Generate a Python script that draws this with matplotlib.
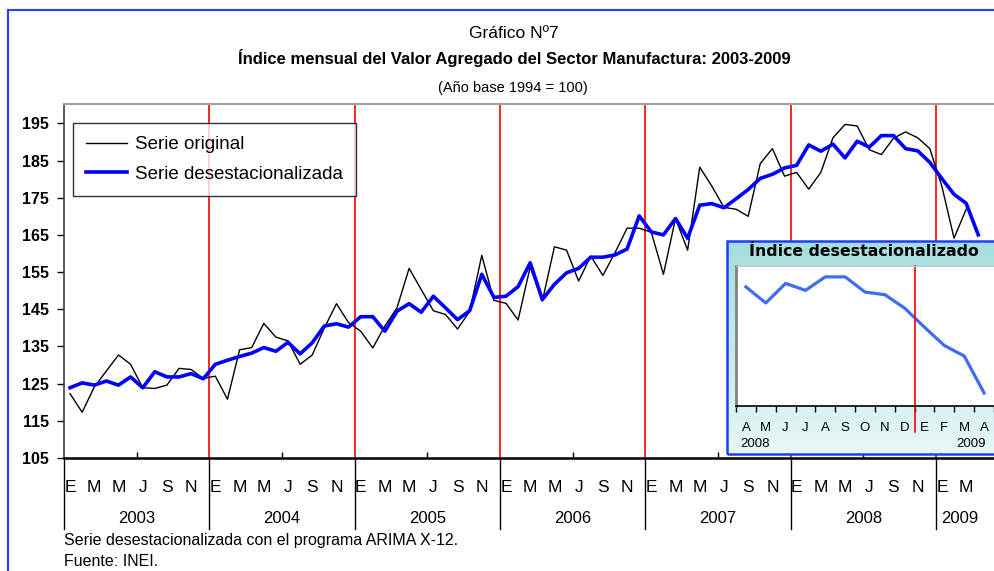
import matplotlib
matplotlib.use("Agg")
import matplotlib.pyplot as plt
import numpy as np
from matplotlib.lines import Line2D
from matplotlib.colors import LinearSegmentedColormap

W, H = 994, 571

years = ["2003", "2004", "2005", "2006", "2007", "2008", "2009"]
month_letters = ["E", "M", "M", "J", "S", "N"]

# Serie original (ene 2003 - mar 2009)
serie_original = [
    122.3, 117.3, 124.1, 128.4, 132.7, 130.2, 123.9, 123.7, 124.6, 129.1, 128.8, 126.4,
    127.0, 120.8, 134.1, 134.7, 141.2, 137.5, 136.5, 130.2, 132.7, 140.0, 146.5, 141.4,
    139.1, 134.6, 140.5, 145.4, 156.0, 150.3, 144.6, 143.6, 139.7, 144.4, 159.5, 147.4,
    146.6, 142.1, 156.4, 147.2, 161.8, 160.9, 152.6, 159.3, 154.1, 160.2, 166.8, 166.8,
    165.7, 154.4, 169.4, 160.9, 183.2, 178.1, 172.4, 171.9, 170.0, 184.2, 188.2, 180.8,
    181.8, 177.3, 181.8, 191.1, 194.7, 194.3, 187.9, 186.6, 191.0, 192.7, 191.1, 188.2,
    178.0, 164.1, 171.9,
]

# Serie desestacionalizada (ene 2003 - abr 2009)
serie_desest = [
    123.9, 125.2, 124.6, 125.7, 124.6, 126.8, 123.9, 128.2, 126.8, 126.8, 127.7, 126.3,
    130.2, 131.3, 132.3, 133.2, 134.7, 133.7, 136.1, 133.0, 136.0, 140.5, 141.1, 140.2,
    143.0, 143.0, 139.1, 144.5, 146.5, 144.2, 148.5, 145.4, 142.2, 144.6, 154.4, 148.2,
    148.5, 151.1, 157.5, 147.6, 151.7, 154.8, 156.0, 159.0, 159.0, 159.6, 161.2, 170.1,
    165.8, 165.0, 169.4, 164.1, 173.0, 173.4, 172.3, 174.7, 177.2, 180.2, 181.3, 183.0,
    183.7, 189.2, 187.5, 189.4, 185.7, 190.2, 188.6, 191.7, 191.7, 188.2, 187.6, 184.5,
    180.1, 175.9, 173.5, 165.0,
]

# recuadro: abril 2008 - abril 2009
inset_start = 63
inset_labels = ["A", "M", "J", "J", "A", "S", "O", "N", "D", "E", "F", "M", "A"]
inset_years = ["2008", "2009"]

plt.rcParams["font.family"] = ["Liberation Sans", "DejaVu Sans"]


def fx(px):
    return px / W


def fy(py):
    return 1 - py / H


fig = plt.figure(figsize=(W / 100, H / 100), dpi=100)

# marco exterior
fig.add_artist(Line2D([fx(8), 1], [fy(10), fy(10)], color="#2a3cff", lw=1.5))
fig.add_artist(Line2D([fx(8), fx(8)], [fy(10), 0], color="#2a3cff", lw=1.5))

# titulos
fig.text(fx(514), fy(34), "Gráfico Nº7", ha="center", va="center", fontsize=12.5)
fig.text(fx(514), fy(58), "Índice mensual del Valor Agregado del Sector Manufactura: 2003-2009",
         ha="center", va="center", fontsize=12, fontweight="bold")
fig.text(fx(513), fy(88), "(Año base 1994 = 100)", ha="center", va="center", fontsize=10.5)

# grafico principal
ax = fig.add_axes([fx(64), fy(458), 1 - fx(64), (458 - 104) / H])
n = len(serie_desest)
ax.set_xlim(-0.5, 76.3)
ax.set_ylim(105, 200.2)

for k in range(1, len(years)):
    ax.axvline(12 * k - 0.5, color="red", lw=1.2, zorder=1)

ax.plot(range(len(serie_original)), serie_original, color="black", lw=1.0, zorder=3,
        label="Serie original")
ax.plot(range(n), serie_desest, color="#0000ff", lw=2.6, zorder=4,
        label="Serie desestacionalizada")

ax.spines["right"].set_visible(False)
ax.spines["top"].set_color("#a0a0a0")
ax.spines["top"].set_linewidth(1.5)
ax.spines["left"].set_color("#404040")
ax.spines["left"].set_linewidth(1.2)
ax.spines["bottom"].set_color("black")
ax.spines["bottom"].set_linewidth(1.8)

ax.set_yticks(range(105, 200, 10))
ax.tick_params(axis="y", direction="out", length=5, width=1, labelsize=11.5, pad=6)
for lab in ax.get_yticklabels():
    lab.set_fontweight("bold")
ax.set_xticks([5.5 + 12 * k for k in range(6)])
ax.set_xticklabels([])
ax.tick_params(axis="x", direction="in", length=4, width=1)

xt = ax.get_xaxis_transform()
for yi, yr in enumerate(years):
    for m, letter in enumerate(month_letters):
        idx = 12 * yi + 2 * m
        if idx < n:
            ax.text(idx, -0.082, letter, transform=xt, ha="center", va="center", fontsize=12.5)
    start = 12 * yi - 0.5
    end = min(12 * yi + 11.5, n - 0.5)
    ax.text((start + end) / 2, -0.172, yr, transform=xt, ha="center", va="center", fontsize=12)
    ax.plot([start, start], [0, -0.2], transform=xt, color="black", lw=1, clip_on=False)

leg = ax.legend(loc="upper left", bbox_to_anchor=(fx(73), fy(123)), bbox_transform=fig.transFigure,
                frameon=True, fancybox=False, edgecolor="black", fontsize=13.5,
                handlelength=2.2, handletextpad=0.4, borderpad=0.7, labelspacing=0.65,
                borderaxespad=0)
leg.get_frame().set_linewidth(1.0)

# recuadro
gax = fig.add_axes([fx(727), fy(454), 1.01 - fx(727), (454 - 241) / H])
cmap = LinearSegmentedColormap.from_list("cyan", ["#a3dedf", "#e8f7f7"])
gax.imshow(np.linspace(0, 1, 256).reshape(-1, 1), aspect="auto", cmap=cmap,
           extent=(0, 1, 0, 1))
gax.set_xlim(0, 1)
gax.set_ylim(0, 1)
gax.set_axis_off()
gax.add_patch(plt.Rectangle((0, 0), 1, 1, transform=gax.transAxes, fill=False,
                            edgecolor="#1f3fff", lw=1.8, clip_on=False))

fig.text(fx(864), fy(252), "Índice desestacionalizado", ha="center", va="center",
         fontsize=11.3, fontweight="bold", family="DejaVu Sans")

iax = fig.add_axes([fx(736), fy(406), 1 - fx(736), (406 - 266) / H])
iax.set_facecolor("white")
inset_vals = serie_desest[inset_start:inset_start + len(inset_labels)]
iax.plot(range(len(inset_vals)), inset_vals, color="#3f6cf5", lw=2.3)
iax.set_xlim(-0.5, 12.35)
iax.set_ylim(162, 194.2)
iax.set_yticks([])
iax.set_xticks(np.arange(-0.5, 13, 1))
iax.set_xticklabels([])
iax.tick_params(axis="x", direction="out", length=4, width=1)
iax.spines["right"].set_visible(False)
iax.spines["top"].set_color("#c8c8c8")
iax.spines["left"].set_color("#808080")
iax.spines["left"].set_linewidth(2)
iax.spines["bottom"].set_color("black")
iax.spines["bottom"].set_linewidth(1.2)

ixt = iax.get_xaxis_transform()
iax.plot([8.5, 8.5], [1, -0.186], transform=ixt, color="red", lw=1.2, clip_on=False)
for i, letter in enumerate(inset_labels):
    iax.text(i, -0.157, letter, transform=ixt, ha="center", va="center", fontsize=9.5)
iax.text(-0.3, -0.27, inset_years[0], transform=ixt, ha="left", va="center", fontsize=9.5)
iax.text(12.1, -0.27, inset_years[1], transform=ixt, ha="right", va="center", fontsize=9.5)

# notas
fig.text(fx(64), fy(540), "Serie desestacionalizada con el programa ARIMA X-12.",
         ha="left", va="center", fontsize=11.5)
fig.text(fx(64), fy(561), "Fuente: INEI.", ha="left", va="center", fontsize=11.5)

fig.savefig("out.png", dpi=100)
